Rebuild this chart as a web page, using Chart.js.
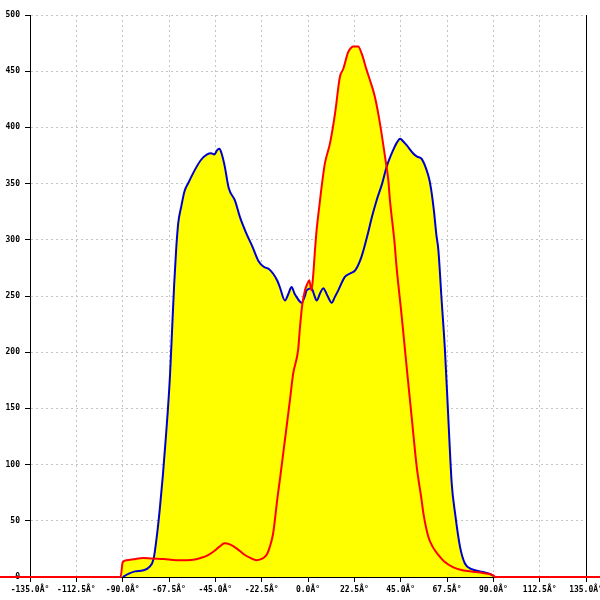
<!DOCTYPE html>
<html>
<head>
<meta charset="utf-8">
<script src="https://cdn.jsdelivr.net/npm/chart.js@4/dist/chart.umd.min.js"></script>
<style>
  body { margin: 0; background: #fff; }
  canvas { display: block; }
</style>
</head>
<body>
<canvas id="chart" width="600" height="600"></canvas>
<script>
// angle (deg) / value pairs
const blueAngles = [-90, -87, -84, -80, -77, -75, -73.5, -72, -70.5, -69, -68, -67, -66, -65, -64, -63, -61.5, -60, -58, -55, -52, -49, -47, -45.5, -44, -43, -42, -40.5, -38.5, -35.5, -33, -30, -27, -24, -21.5, -19, -17, -15, -13.7, -11.2, -9.5, -8, -6.5, -5.5, -3.1, -1.5, -0.7, 1.7, 3, 4.2, 6, 7.4, 9.5, 11.5, 13, 14.7, 17.9, 20.4, 23, 26, 29, 31, 33.3, 36, 38.2, 41.4, 43, 44.7, 46.5, 48, 51, 53, 55.2, 57.6, 59, 60.1, 61.2, 62.3, 63.3, 64.9, 66.5, 68.1, 69.8, 71.4, 73.8, 76.2, 79.5, 85, 88, 90];
const blueValues = [0, 3, 5, 6, 9, 16, 35, 60, 90, 125, 150, 180, 220, 260, 292, 315, 330, 343, 351, 362, 371, 376, 377, 376, 380, 381, 377, 366, 346, 335, 320, 306, 294, 281, 276, 274, 270, 264, 258, 246, 252, 258, 252, 249, 244, 250, 255, 257, 251, 246, 253, 257, 250, 244, 249, 255, 267, 270, 273, 285, 305, 320, 335, 350, 365, 380, 386, 390, 387, 384, 377, 374, 372, 362, 353, 341, 325, 305, 291, 246, 202, 143, 83, 57, 27, 12, 7, 4.5, 3, 1];

const redAngles = [-150, -91, -90, -88, -85, -80, -76, -70, -64, -59, -55, -52, -49, -46, -43, -40.5, -38, -34.7, -31, -28, -25, -22, -20, -18.5, -17, -16, -15, -13.7, -11.2, -8.8, -7.2, -4.8, -3.9, -2.8, -1.5, -0.5, 0.6, 1.7, 2.5, 3.4, 4.2, 5.5, 6.6, 8.2, 10.7, 13.1, 15.5, 17.1, 19.5, 21, 22, 24.4, 26, 28.5, 30.1, 32.5, 34.9, 37.4, 39, 39.8, 42, 43, 45.5, 47.9, 50.3, 52.8, 55.2, 56, 58.4, 60.5, 63.3, 66, 70.6, 75, 80.3, 85, 90, 91, 150];
const redValues = [0, 0, 13, 15, 15.7, 17, 16.5, 16, 15, 15, 15.5, 17, 19, 22.5, 27, 30, 29, 25.5, 20, 17, 15, 16.5, 20, 27, 38, 52, 68, 86, 122, 157, 181, 202, 222, 242, 255, 260, 264, 255, 268, 291, 309, 330, 347, 368, 386, 412, 445, 452, 467, 471, 472, 472, 466, 451, 442, 427, 404, 374, 353, 335, 298, 276, 232, 187, 143, 98, 68, 57, 36, 27, 19.6, 14, 8.6, 6, 4.7, 3.5, 1.5, 0, 0];

const xMin = -135, xMax = 135, xStep = 22.5;
const yMin = 0, yMax = 500, yStep = 50;

function toPoints(xs, ys) {
    return xs.map((x, i) => ({ x: x, y: ys[i] }));
}

// black frame line on the right side of the plot
const rightBorder = {
    id: "rightBorder",
    beforeDatasetsDraw(chart) {
        const { ctx, chartArea } = chart;
        ctx.save();
        ctx.strokeStyle = "#000";
        ctx.lineWidth = 1;
        ctx.beginPath();
        const x = Math.round(chartArea.right) + 0.5;
        ctx.moveTo(x, chartArea.top);
        ctx.lineTo(x, chartArea.bottom + 5);
        ctx.stroke();
        ctx.restore();
    }
};

const tickFont = { family: "DejaVu Sans Mono", size: 8, weight: "bold" };

new Chart(document.getElementById("chart"), {
    type: "line",
    data: {
        datasets: [
            {
                data: toPoints(redAngles, redValues),
                borderColor: "#ff0000",
                backgroundColor: "#ffff00",
                borderWidth: 2,
                fill: "origin",
                pointRadius: 0,
                cubicInterpolationMode: "monotone",
                clip: false
            },
            {
                data: toPoints(blueAngles, blueValues),
                borderColor: "#0000cc",
                backgroundColor: "#ffff00",
                borderWidth: 2,
                fill: "origin",
                pointRadius: 0,
                cubicInterpolationMode: "monotone"
            }
        ]
    },
    options: {
        responsive: false,
        animation: false,
        layout: { padding: { top: 15, right: 14, left: 0, bottom: 0 } },
        plugins: {
            legend: { display: false },
            tooltip: { enabled: false },
            filler: { drawTime: "beforeDatasetsDraw" }
        },
        scales: {
            x: {
                type: "linear",
                min: xMin,
                max: xMax,
                afterFit(scale) {
                    scale.height = 23;
                    scale.paddingLeft = 0;
                    scale.paddingRight = 0;
                },
                ticks: {
                    stepSize: xStep,
                    autoSkip: false,
                    maxRotation: 0,
                    padding: 3,
                    color: "#000",
                    font: tickFont,
                    callback: v => v.toFixed(1) + "Â°"
                },
                grid: {
                    color: "#c4c4c4",
                    lineWidth: 1,
                    tickLength: 5,
                    tickColor: "#000",
                    tickBorderDash: []
                },
                border: { color: "#000", width: 1, dash: [2, 3] }
            },
            y: {
                min: yMin,
                max: yMax,
                afterFit(scale) {
                    scale.width = 30;
                    scale.paddingTop = 0;
                    scale.paddingBottom = 0;
                },
                ticks: {
                    stepSize: yStep,
                    padding: 5,
                    color: "#000",
                    font: tickFont
                },
                grid: {
                    color: "#c4c4c4",
                    lineWidth: 1,
                    tickLength: 5,
                    tickColor: "#000",
                    tickBorderDash: []
                },
                border: { color: "#000", width: 1, dash: [2, 3] }
            }
        }
    },
    plugins: [rightBorder]
});
</script>
</body>
</html>
